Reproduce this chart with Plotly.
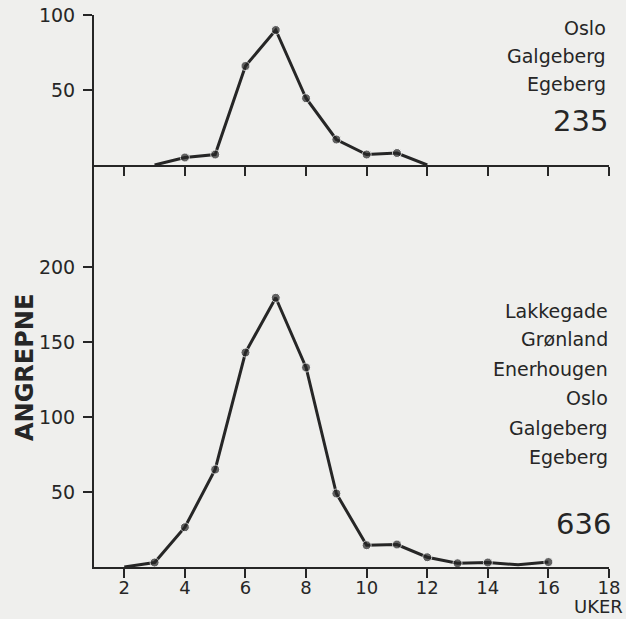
import plotly.graph_objects as go

# Top panel: Oslo, Galgeberg, Egeberg (total 235)
weeks_top = [3, 4, 5, 6, 7, 8, 9, 10, 11, 12]
vals_top = [0, 5, 7, 66, 90, 44.5, 17, 7, 8, 0]
marks_top = [0, 1, 1, 1, 1, 1, 1, 1, 1, 0]

# Bottom panel: all six localities (total 636)
weeks_bot = [2, 3, 4, 5, 6, 7, 8, 9, 10, 11, 12, 13, 14, 15, 16]
vals_bot = [0, 3, 26.5, 65, 143, 179.5, 133, 49, 14.5, 15, 6.5, 2.5, 3, 1.5, 3.3]
marks_bot = [0, 1, 1, 1, 1, 1, 1, 1, 1, 1, 1, 1, 1, 0, 1]

x_ticks = [2, 4, 6, 8, 10, 12, 14, 16, 18]
y_ticks_top = [50, 100]
y_ticks_bot = [50, 100, 150, 200]

labels_top = ["Oslo", "Galgeberg", "Egeberg"]
total_top = "235"
labels_bot = ["Lakkegade", "Grønland", "Enerhougen", "Oslo", "Galgeberg", "Egeberg"]
total_bot = "636"

INK = "#262626"
BG = "#efefed"
FONT = "DejaVu Sans"

W, H = 626, 619
L, R = 94, 17
TOP_PX, SPLIT_PX, BOT_PX = 15, 165, 567
PW = W - L - R
PH = BOT_PX - TOP_PX
split = (BOT_PX - SPLIT_PX) / PH


def px(xp):
    return (xp - L) / PW


def py(yp):
    return (BOT_PX - yp) / PH


fig = go.Figure()
fig.add_trace(go.Scatter(
    x=weeks_top, y=vals_top, xaxis="x2", yaxis="y2", mode="lines+markers",
    line=dict(color=INK, width=3),
    marker=dict(color=INK, size=[9 * m for m in marks_top]),
    showlegend=False, cliponaxis=False))
fig.add_trace(go.Scatter(
    x=weeks_bot, y=vals_bot, xaxis="x", yaxis="y", mode="lines+markers",
    line=dict(color=INK, width=3),
    marker=dict(color=INK, size=[9 * m for m in marks_bot]),
    showlegend=False, cliponaxis=False))

axis_common = dict(showline=True, linecolor=INK, linewidth=2, ticks="outside",
                   ticklen=9, tickwidth=2, tickcolor=INK, showgrid=False,
                   zeroline=False, automargin=False,
                   tickfont=dict(family=FONT, size=19, color=INK))

fig.update_layout(
    width=W, height=H,
    margin=dict(l=L, r=R, t=TOP_PX, b=H - BOT_PX, autoexpand=False),
    paper_bgcolor=BG, plot_bgcolor=BG,
    xaxis=dict(range=[1, 18], tickvals=x_ticks, anchor="y", domain=[0, 1],
               ticklabelstandoff=-6,
               **{**axis_common, "tickfont": dict(family=FONT, size=18, color=INK)}),
    xaxis2=dict(range=[1, 18], tickvals=x_ticks, anchor="y2", domain=[0, 1],
                showticklabels=False, **axis_common),
    yaxis=dict(range=[0, 268], tickvals=y_ticks_bot, domain=[0, split],
               anchor="x", ticklabelstandoff=4, **axis_common),
    yaxis2=dict(range=[0, 100], tickvals=y_ticks_top, domain=[split, 1],
                anchor="x2", ticklabelstandoff=4, **axis_common),
)

ann = []


def add(text, xp, yp, size, xanchor="right", yanchor="middle", angle=0):
    ann.append(dict(text=text, x=px(xp), y=py(yp), xref="paper", yref="paper",
                    xanchor=xanchor, yanchor=yanchor, showarrow=False,
                    textangle=angle, font=dict(family=FONT, size=size, color=INK)))


# Top panel labels
for t, yp in zip(labels_top, [27.5, 56, 84]):
    add(t, 608, yp, 19)
add(total_top, 610, 121, 29)
# Bottom panel labels
for t, yp in zip(labels_bot, [311, 339, 369, 398, 428, 457]):
    add(t, 610, yp, 19)
add(total_bot, 613, 524, 29)
# Axis titles
add("UKER", 625, 619, 18, yanchor="bottom")
add("<b>ANGREPNE</b>", 25, 368, 24, xanchor="center", angle=-90)

fig.update_layout(annotations=ann)

fig.write_html("out.html")
